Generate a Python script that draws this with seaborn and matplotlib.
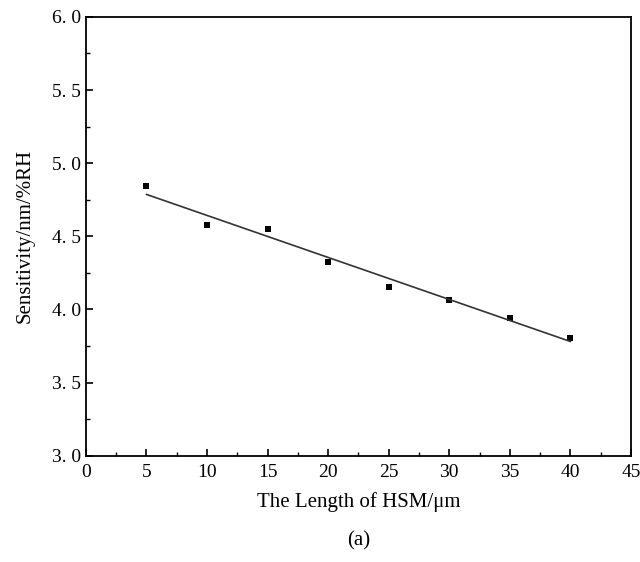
import seaborn as sns
import matplotlib.pyplot as plt
import pandas as pd
from matplotlib.ticker import MultipleLocator

sns.set_theme(style="ticks")
plt.rcParams['font.family'] = ['Liberation Serif', 'DejaVu Serif']
plt.rcParams.update({'text.color': 'black', 'axes.labelcolor': 'black',
                     'xtick.color': 'black', 'ytick.color': 'black'})

### data
length_um = [5, 10, 15, 20, 25, 30, 35, 40]
sensitivity = [4.845, 4.579, 4.550, 4.326, 4.155, 4.066, 3.943, 3.807]
df = pd.DataFrame({'length': length_um, 'sensitivity': sensitivity})

fig = plt.figure(figsize=(6.4, 5.62), dpi=100)
ax = fig.add_axes([0.134, 0.189, 0.852, 0.781])

sns.regplot(data=df, x='length', y='sensitivity', ax=ax, ci=None, truncate=True,
            marker='s', color='black',
            scatter_kws={'s': 22, 'linewidths': 0, 'alpha': 1},
            line_kws={'color': '#333333', 'linewidth': 1.2})

ax.set_xlim(0, 45)
ax.set_ylim(3.0, 6.0)
ax.xaxis.set_major_locator(MultipleLocator(5))
ax.xaxis.set_minor_locator(MultipleLocator(2.5))
ax.yaxis.set_major_locator(MultipleLocator(0.5))
ax.yaxis.set_minor_locator(MultipleLocator(0.25))
ax.yaxis.set_major_formatter(plt.FuncFormatter(lambda v, p: f'{v:.1f}'.replace('.', '. ')))
ax.tick_params(which='major', direction='in', length=5, width=1.2, labelsize=14)
ax.tick_params(which='minor', direction='in', length=3, width=1.0)
ax.tick_params(axis='x', pad=6)
for s in ax.spines.values():
    s.set_linewidth(1.3)
    s.set_color('black')

ax.set_xlabel('The Length of HSM/μm', fontsize=15, labelpad=8)
ax.set_ylabel('Sensitivity/nm/%RH', fontsize=15, labelpad=12)
fig.text(0.56, 0.03, '(a)', ha='center', fontsize=15)

fig.savefig('out.png', dpi=100)
